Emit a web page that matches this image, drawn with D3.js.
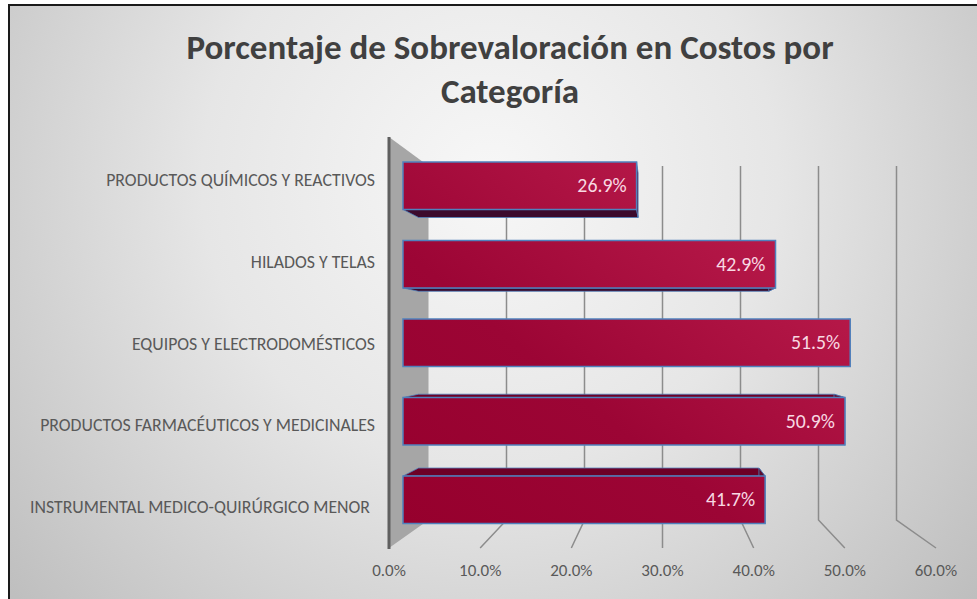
<!DOCTYPE html>
<html>
<head>
<meta charset="utf-8">
<script src="https://cdn.jsdelivr.net/npm/d3@7"></script>
<style>
  html, body { margin: 0; padding: 0; background: #fff; }
  svg { display: block; font-family: Carlito, "Open Sans", Lato, sans-serif; }
</style>
</head>
<body>
<svg width="977" height="599"></svg>
<script>
const categories = [
  "PRODUCTOS QUÍMICOS Y REACTIVOS",
  "HILADOS Y TELAS",
  "EQUIPOS Y ELECTRODOMÉSTICOS",
  "PRODUCTOS FARMACÉUTICOS Y MEDICINALES",
  "INSTRUMENTAL MEDICO-QUIRÚRGICO MENOR"
];
const values = [26.9, 42.9, 51.5, 50.9, 41.7];
const ticks = [0, 10, 20, 30, 40, 50, 60];
const titleLines = ["Porcentaje de Sobrevaloración en Costos por", "Categoría"];

const svg = d3.select("svg");
const defs = svg.append("defs");

const bg = defs.append("radialGradient").attr("id", "bg")
  .attr("gradientUnits", "userSpaceOnUse")
  .attr("cx", 490).attr("cy", 180).attr("r", 640);
bg.append("stop").attr("offset", "0").attr("stop-color", "#f7f7f7");
bg.append("stop").attr("offset", "0.45").attr("stop-color", "#e6e6e6");
bg.append("stop").attr("offset", "1").attr("stop-color", "#bebebe");

const barFill = defs.append("linearGradient").attr("id", "barFill")
  .attr("gradientUnits", "userSpaceOnUse")
  .attr("x1", 403).attr("y1", 523).attr("x2", 700).attr("y2", 162);
barFill.append("stop").attr("offset", "0").attr("stop-color", "#96002d");
barFill.append("stop").attr("offset", "0.45").attr("stop-color", "#9c0535");
barFill.append("stop").attr("offset", "1").attr("stop-color", "#b81a4a");

// picture is cropped: the frame only shows on the top and left
svg.append("rect")
  .attr("x", 10).attr("y", 6).attr("width", 967).attr("height", 593)
  .attr("fill", "url(#bg)");
svg.append("path")
  .attr("d", d3.line()([[9, 599], [9, 5], [977, 5]]))
  .attr("fill", "none").attr("stroke", "#1a1a1a").attr("stroke-width", 2);

svg.append("g").selectAll("text")
  .data(titleLines)
  .enter().append("text")
  .attr("x", 510)
  .attr("y", (d, i) => 58.5 + i * 44)
  .attr("text-anchor", "middle")
  .attr("font-size", 35)
  .attr("font-weight", 700)
  .attr("fill", "#404040")
  .text(d => d);

// three planes of the chart: front edge of floor, bars, back wall
const xFront = d3.scaleLinear().domain([0, 60]).range([389, 936]);
const xBack = d3.scaleLinear().domain([0, 60]).range([428.5, 896.5]);
const xBar = d3.scaleLinear().domain([0, 60]).range([403, 924]);
const y = d3.scaleBand().domain(categories)
  .range([146.5, 539]).paddingInner(0.395).paddingOuter(0.1975);
// labels sit on the front plane so their spacing is wider than the bars
const yLabel = d3.scalePoint().domain(categories).range([186, 513]);

const backTop = 166, backBottom = 520, frontBottom = 548, wallTop = 137;

// bars recede towards this point
const vanishX = 662, vanishY = 343, depth = 0.06;
const backX = x => x + (vanishX - x) * depth;
const backY = v => v + (vanishY - v) * depth;

svg.append("path")
  .attr("d", d3.line()([
    [xFront(0), wallTop], [xBack(0), backTop],
    [xBack(0), backBottom], [xFront(0), frontBottom]
  ]) + "Z")
  .attr("fill", "#a6a6a6");
svg.append("line")
  .attr("x1", xFront(0)).attr("x2", xFront(0))
  .attr("y1", wallTop).attr("y2", frontBottom + 1)
  .attr("stroke", "#5f5f5f").attr("stroke-width", 3);

svg.append("g").selectAll("path")
  .data(ticks.slice(1))
  .enter().append("path")
  .attr("d", d => d3.line()([
    [xBack(d), backTop], [xBack(d), backBottom], [xFront(d), frontBottom]
  ]))
  .attr("fill", "none").attr("stroke", "#8c8c8c").attr("stroke-width", 1.5);

svg.append("g").selectAll("text")
  .data(ticks)
  .enter().append("text")
  .attr("x", d => xFront(d))
  .attr("y", 576)
  .attr("text-anchor", "middle")
  .attr("font-size", 17)
  .attr("fill", "#595959")
  .text(d => d.toFixed(1) + "%");

svg.append("g").selectAll("text")
  .data(categories)
  .enter().append("text")
  .attr("x", (d, i) => i === 4 ? 370 : 375)
  .attr("y", d => yLabel(d))
  .attr("text-anchor", "end")
  .attr("font-size", 17.8)
  .attr("fill", "#595959")
  .text(d => d);

const bars = svg.append("g").selectAll("g")
  .data(categories.map((c, i) => ({ c, v: values[i] })))
  .enter().append("g");

const edge = "#4f81bd";

// side of the bar that is seen: underside above the middle, top below it
bars.append("path")
  .attr("d", d => {
    const x0 = xBar(0), x1 = xBar(d.v);
    const yy = y(d.c) + y.bandwidth() / 2 < vanishY ? y(d.c) + y.bandwidth() : y(d.c);
    return d3.line()([[x0, yy], [backX(x0), backY(yy)], [backX(x1), backY(yy)], [x1, yy]]) + "Z";
  })
  .attr("fill", d => y(d.c) + y.bandwidth() / 2 < vanishY ? "#3c0a2c" : "#6d0026")
  .attr("stroke", edge).attr("stroke-width", 0.8);

// right end of the bar
bars.append("path")
  .attr("d", d => {
    const x1 = xBar(d.v), t = y(d.c), b = t + y.bandwidth();
    return d3.line()([[x1, t], [backX(x1), backY(t)], [backX(x1), backY(b)], [x1, b]]) + "Z";
  })
  .attr("fill", "#5c0a2c")
  .attr("stroke", edge).attr("stroke-width", 0.8);

bars.append("rect")
  .attr("x", xBar(0))
  .attr("y", d => y(d.c))
  .attr("width", d => xBar(d.v) - xBar(0))
  .attr("height", y.bandwidth())
  .attr("fill", "url(#barFill)")
  .attr("stroke", edge).attr("stroke-width", 1.5);

bars.append("text")
  .attr("x", d => xBar(d.v) - 10)
  .attr("y", d => y(d.c) + y.bandwidth() / 2 + 6.5)
  .attr("text-anchor", "end")
  .attr("font-size", 19.8)
  .attr("fill", "#f8d9e3")
  .text(d => d.v.toFixed(1) + "%");
</script>
</body>
</html>
